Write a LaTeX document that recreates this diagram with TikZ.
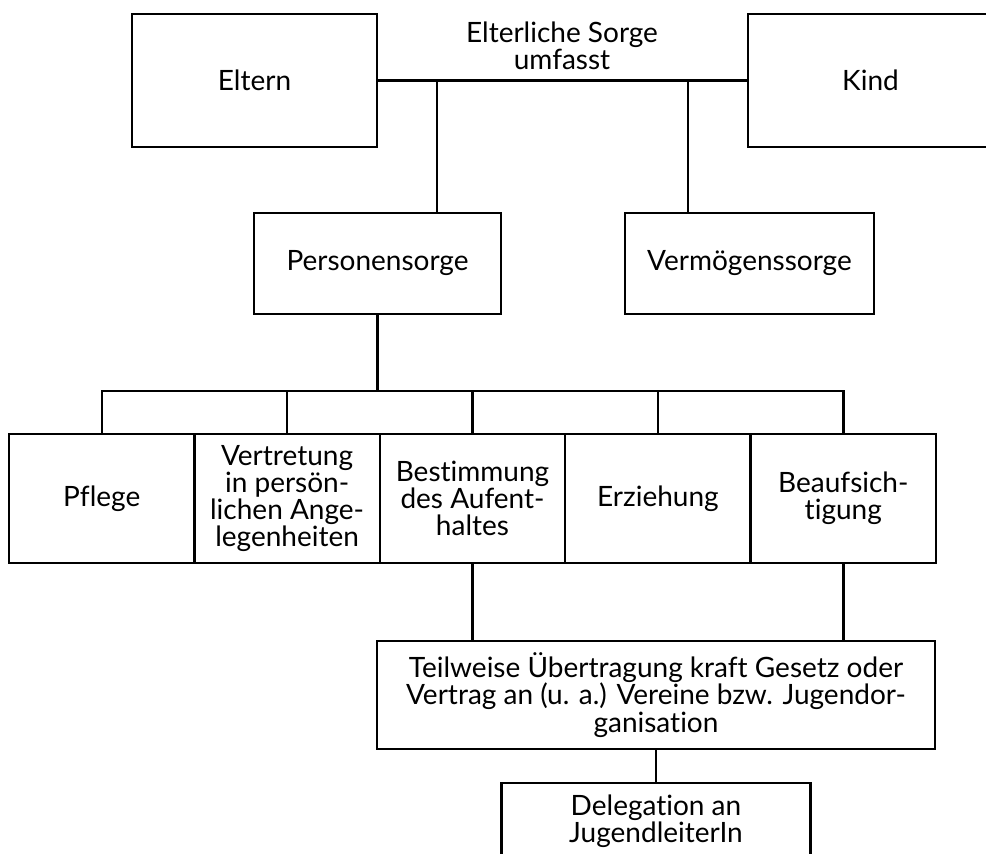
\documentclass[tikz,border=0pt]{standalone}
\usepackage{fontspec}
\setmainfont{Lato}[Ligatures=NoCommon]
\usetikzlibrary{positioning}

\begin{document}
\begin{tikzpicture}[x=0.5pt, y=-0.5pt, line width=1.2pt,
    box/.style={draw, align=center, inner sep=0pt, outer sep=0pt, font=\fontsize{14}{13.6}\selectfont},
    cell/.style={box, minimum width=92.7pt, minimum height=64.5pt}]

  % Frame (the Kind box runs off the right edge)
  \clip (0,0) rectangle (986,853);

  % Top level
  \node[box, minimum width=122.5pt, minimum height=66.5pt] (eltern) at (254.5,80.5) {Eltern};
  \node[box, minimum width=122.5pt, minimum height=66.5pt] (kind) at (870.5,80.5) {Kind};
  \node[align=center, font=\fontsize{14}{13.6}\selectfont] (umfasst) at (562,46) {Elterliche Sorge\\umfasst};

  % Level 1
  \node[box, minimum width=123.5pt, minimum height=50.5pt] (pers) at (377.5,263.5) {Personensorge};
  \node[box, minimum width=124.5pt, minimum height=50.5pt] (verm) at (749.5,263.5) {Vermögenssorge};

  % Level 2 (from pers)
  \node[cell] (pflege) at (101.7,498.5) {Pflege};
  \node[cell, right=0pt of pflege] (vertr) {Vertretung\\in persön-\\lichen Ange-\\legenheiten};
  \node[cell, right=0pt of vertr] (bestimm) {Bestimmung\\des Aufent-\\haltes};
  \node[cell, right=0pt of bestimm] (erzieh) {Erziehung};
  \node[cell, right=0pt of erzieh] (beauf) {Beaufsich-\\tigung};

  % Level 3
  \node[box, minimum width=279pt, minimum height=54pt] (teil) at (656,695) {Teilweise Übertragung kraft Gesetz oder\\Vertrag an (u. a.) Vereine bzw. Jugendor-\\ganisation};
  \node[box, minimum width=154.5pt, minimum height=38pt, below=17pt of teil] (deleg) {Delegation an\\JugendleiterIn};

  % Connectors
  \coordinate (bus) at (0,391);
  \draw (eltern.east) -- (kind.west);
  \draw ([xshift=29.75pt]pers.north) -- ([xshift=29.75pt]pers.north |- eltern.east);
  \draw ([xshift=-30.75pt]verm.north) -- ([xshift=-30.75pt]verm.north |- kind.west);
  \draw (pers.south) -- (pers.south |- bus);
  \draw (pflege.north) |- (bus -| beauf.north) -- (beauf.north);
  \foreach \n in {vertr, bestimm, erzieh}
    \draw (\n.north) -- (\n.north |- bus);
  \draw (bestimm.south) -- (bestimm.south |- teil.north);
  \draw (beauf.south) -- (beauf.south |- teil.north);
  \draw (teil.south) -- (deleg.north);
\end{tikzpicture}
\end{document}
